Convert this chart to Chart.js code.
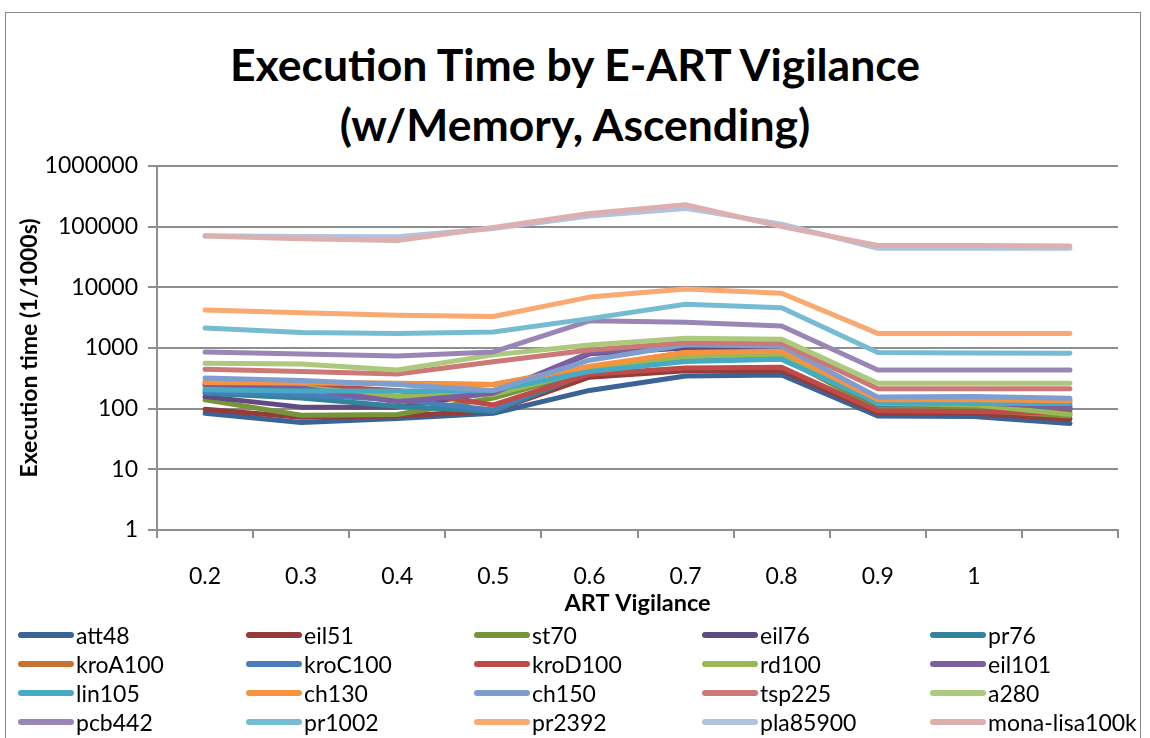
<!DOCTYPE html>
<html>
<head>
<meta charset="utf-8">
<script src="https://cdn.jsdelivr.net/npm/chart.js@4.4.1/dist/chart.umd.min.js"></script>
<style>
  html, body { margin: 0; padding: 0; background: #fff; }
  body { width: 1150px; height: 738px; position: relative; overflow: hidden; font-family: Lato, "Open Sans", sans-serif; }
  #frame { position: absolute; left: 5px; top: 12px; width: 1136px; height: 760px; border: 1.5px solid #8a8a8a; box-sizing: border-box; }
  #title { position: absolute; left: 0; width: 1150px; top: 34px; text-align: center; font-weight: bold; font-size: 44.5px; line-height: 60px; color: #000; }
  #chart { position: absolute; left: 0; top: 0; }
  #legend { position: absolute; left: 0; top: 0; width: 1150px; height: 738px; pointer-events: none; }
  .item { position: absolute; height: 29px; display: flex; align-items: center; font-size: 23px; color: #000; white-space: nowrap; }
  .sw { width: 56px; height: 6px; border-radius: 3px; margin-right: 2px; }
</style>
</head>
<body>
<div id="frame"></div>
<div id="title">Execution Time by E-ART Vigilance<br>(w/Memory, Ascending)</div>
<canvas id="chart" width="1150" height="738"></canvas>
<div id="legend"></div>
<script>
// ART vigilance categories (last slot carries no label)
const vigilance = ['0.2', '0.3', '0.4', '0.5', '0.6', '0.7', '0.8', '0.9', '1', ''];
// logarithmic axis ticks
const yTicks = [1, 10, 100, 1000, 10000, 100000, 1000000];

// execution time per instance, in 1/1000 s
const att48        = [84, 59, 69, 84, 200, 345, 360, 76, 74, 57];
const eil51        = [98, 72, 76, 92, 330, 420, 425, 86, 84, 67];
const st70         = [140, 78, 80, 150, 420, 700, 700, 100, 95, 76];
const eil76        = [158, 106, 106, 185, 800, 1000, 950, 118, 115, 100];
const pr76         = [180, 150, 110, 90, 400, 640, 720, 118, 116, 95];
const kroA100      = [275, 270, 262, 250, 480, 840, 880, 140, 140, 135];
const kroC100      = [190, 170, 140, 95, 450, 700, 720, 125, 120, 110];
const kroD100      = [250, 240, 200, 115, 370, 470, 480, 92, 90, 85];
const rd100        = [225, 225, 160, 170, 430, 720, 800, 122, 116, 80];
const eil101       = [250, 220, 130, 180, 830, 1150, 1050, 132, 126, 105];
const lin105       = [205, 195, 195, 200, 410, 600, 650, 125, 122, 122];
const ch130        = [270, 265, 260, 250, 500, 840, 880, 140, 140, 135];
const ch150        = [320, 290, 250, 200, 630, 1130, 1080, 155, 158, 148];
const tsp225       = [445, 410, 373, 595, 925, 1220, 1200, 213, 213, 213];
const a280         = [560, 545, 434, 770, 1120, 1450, 1400, 262, 262, 262];
const pcb442       = [860, 800, 740, 860, 2800, 2650, 2300, 434, 434, 434];
const pr1002       = [2140, 1800, 1730, 1840, 3050, 5250, 4620, 840, 830, 820];
const pr2392       = [4230, 3800, 3450, 3300, 6900, 9400, 8000, 1740, 1740, 1740];
const pla85900     = [71000, 69000, 68000, 93000, 150000, 200000, 110000, 44000, 44000, 44000];
const monaLisa100k = [70000, 63000, 59000, 97000, 165000, 230000, 100000, 49000, 49000, 48000];

const seriesNames = ['att48', 'eil51', 'st70', 'eil76', 'pr76', 'kroA100', 'kroC100', 'kroD100', 'rd100', 'eil101',
  'lin105', 'ch130', 'ch150', 'tsp225', 'a280', 'pcb442', 'pr1002', 'pr2392', 'pla85900', 'mona-lisa100k'];
const seriesValues = [att48, eil51, st70, eil76, pr76, kroA100, kroC100, kroD100, rd100, eil101,
  lin105, ch130, ch150, tsp225, a280, pcb442, pr1002, pr2392, pla85900, monaLisa100k];
const seriesColors = ['#3A6396', '#953B39', '#77933C', '#5F4B7E', '#31849B', '#C6732F', '#4A7EBB', '#BE4B48', '#98B954', '#7D5FA0',
  '#46AAC5', '#F69240', '#7D9ECF', '#CB7876', '#ADC97E', '#9A86B6', '#75BCD2', '#F9AA72', '#B1C3DE', '#DDAFAE'];

const GRID = '#8e8e8e';
const PLOT_LEFT = 157;
const PLOT_TOP = 166;
const PLOT_RIGHT = 1118;
const PLOT_BOTTOM = 530;
const LEGEND_TOP = 618;

const datasets = seriesNames.map((name, i) => ({
  label: name,
  data: seriesValues[i],
  borderColor: seriesColors[i],
  backgroundColor: seriesColors[i],
  borderWidth: 5,
  borderCapStyle: 'round',
  borderJoinStyle: 'round',
  pointRadius: 0,
  pointHoverRadius: 0,
  tension: 0,
  fill: false,
  order: seriesNames.length - i   // later series are painted over earlier ones
}));

new Chart(document.getElementById('chart'), {
  type: 'line',
  data: { labels: vigilance, datasets },
  options: {
    responsive: false,
    animation: false,
    devicePixelRatio: 1,
    layout: { padding: { top: PLOT_TOP, left: 0, right: 1150 - PLOT_RIGHT, bottom: 738 - LEGEND_TOP } },
    plugins: { legend: { display: false }, title: { display: false }, tooltip: { enabled: false } },
    scales: {
      x: {
        type: 'category',
        offset: true,
        grid: { offset: true, drawOnChartArea: false, drawTicks: true, tickLength: 8, color: GRID, lineWidth: 2 },
        border: { display: true, color: GRID, width: 2 },
        ticks: { color: '#000', font: { family: 'Lato', size: 23 }, padding: 25, maxRotation: 0, autoSkip: false },
        title: { display: true, text: 'ART Vigilance', color: '#000', font: { family: 'Lato', size: 23.5, weight: 'bold' }, padding: { top: 0, bottom: 0 } },
        afterFit(scale) {
          scale.height = LEGEND_TOP - PLOT_BOTTOM;
          scale.paddingLeft = 0; scale.paddingRight = 0;
        }
      },
      y: {
        type: 'logarithmic',
        min: yTicks[0],
        max: yTicks[yTicks.length - 1],
        afterBuildTicks(scale) { scale.ticks = yTicks.map(v => ({ value: v, major: true })); },
        grid: { drawOnChartArea: true, drawTicks: true, tickLength: 9, color: GRID, lineWidth: 2 },
        border: { display: true, color: GRID, width: 2 },
        ticks: {
          color: '#000', font: { family: 'Lato', size: 23 }, padding: 10,
          callback: (v) => String(v)
        },
        title: { display: true, text: 'Execution time (1/1000s)', color: '#000', font: { family: 'Lato', size: 23, weight: 'bold' }, padding: { top: 16, bottom: 0 } },
        afterFit(scale) {
          scale.width = PLOT_LEFT;
          scale.paddingTop = 0; scale.paddingBottom = 0;
        }
      }
    }
  }
});

// legend: four rows of five entries
const legend = document.getElementById('legend');
seriesNames.forEach((name, i) => {
  const row = Math.floor(i / 5), col = i % 5;
  const el = document.createElement('div');
  el.className = 'item';
  el.style.left = (18 + col * 228) + 'px';
  el.style.top = (620 + row * 29) + 'px';
  const sw = document.createElement('span');
  sw.className = 'sw';
  sw.style.background = seriesColors[i];
  const tx = document.createElement('span');
  tx.textContent = name;
  el.appendChild(sw); el.appendChild(tx);
  legend.appendChild(el);
});
</script>
</body>
</html>
